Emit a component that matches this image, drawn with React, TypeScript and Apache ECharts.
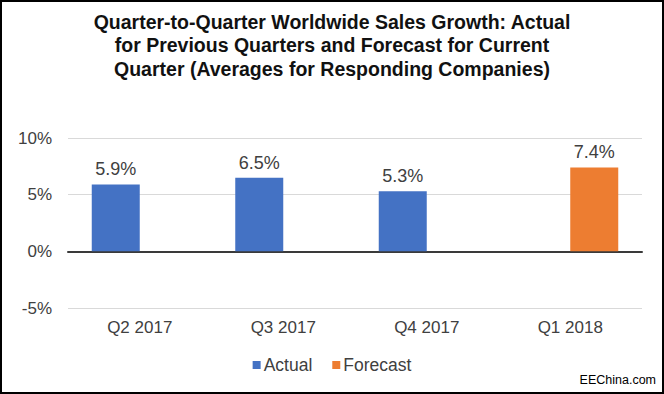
import React, { useEffect, useRef } from "react";
import * as echarts from "echarts";

const categories = ["Q2 2017", "Q3 2017", "Q4 2017", "Q1 2018"];
const actualValues = [5.9, 6.5, 5.3, null];
const forecastValues = [null, null, null, 7.4];
const titleLines = [
  "Quarter-to-Quarter Worldwide Sales Growth: Actual",
  "for Previous Quarters and Forecast for Current",
  "Quarter (Averages for Responding Companies)",
];

export default function App() {
  const ref = useRef<HTMLDivElement>(null);
  useEffect(() => {
    if (!ref.current) return;
    const chart = echarts.init(ref.current, null, { renderer: "svg" });
    const font = "Arial, 'Liberation Sans', sans-serif";
    const valueLabel = {
      show: true,
      position: "top",
      distance: 6,
      fontSize: 18,
      color: "#404040",
      formatter: (p: any) => `${p.value}%`,
    };
    chart.setOption({
      animation: false,
      backgroundColor: "#ffffff",
      textStyle: { fontFamily: font },
      title: {
        text: titleLines.join("\n"),
        left: "center",
        top: 5,
        textStyle: {
          fontFamily: font,
          fontSize: 19.5,
          fontWeight: "bold",
          color: "#111111",
          lineHeight: 23.5,
        },
      },
      legend: {
        bottom: 15,
        left: "center",
        itemWidth: 8,
        itemHeight: 8,
        itemGap: 20,
        icon: "rect",
        textStyle: { fontSize: 17.5, color: "#404040", fontFamily: font, padding: [0, 0, 0, -2] },
        data: ["Actual", "Forecast"],
      },
      grid: { left: 68, right: 22, top: 138, bottom: 86 },
      xAxis: {
        type: "category",
        data: categories,
        axisLine: { show: true, lineStyle: { color: "#3a3a3a", width: 2 } },
        axisTick: { show: false },
        axisLabel: { fontSize: 17, color: "#404040", margin: 11 },
      },
      yAxis: {
        type: "value",
        min: -5,
        max: 10,
        interval: 5,
        axisLine: { show: false },
        axisTick: { show: false },
        axisLabel: { formatter: "{value}%", fontSize: 17, color: "#404040", margin: 16 },
        splitLine: { lineStyle: { color: "#d9d9d9", width: 1 } },
      },
      series: [
        {
          name: "Actual",
          type: "bar",
          data: actualValues,
          barWidth: 48,
          barGap: "0%",
          itemStyle: { color: "#4472C4" },
          label: valueLabel,
        },
        {
          name: "Forecast",
          type: "bar",
          data: forecastValues,
          barWidth: 48,
          barGap: "0%",
          itemStyle: { color: "#ED7D31" },
          label: valueLabel,
        },
      ],
      graphic: [
        {
          type: "rect",
          shape: { x: 1, y: 1, width: 662, height: 392 },
          style: { fill: "none", stroke: "#000000", lineWidth: 2 },
          silent: true,
        },
        {
          type: "text",
          right: 8,
          top: 373,
          style: {
            text: "EEChina.com",
            fontSize: 12.5,
            fontFamily: font,
            fill: "#000000",
          },
        },
      ],
    });
    return () => chart.dispose();
  }, []);
  return (
    <div
      ref={ref}
      style={{ position: "fixed", left: 0, top: 0, width: 664, height: 394 }}
    />
  );
}
